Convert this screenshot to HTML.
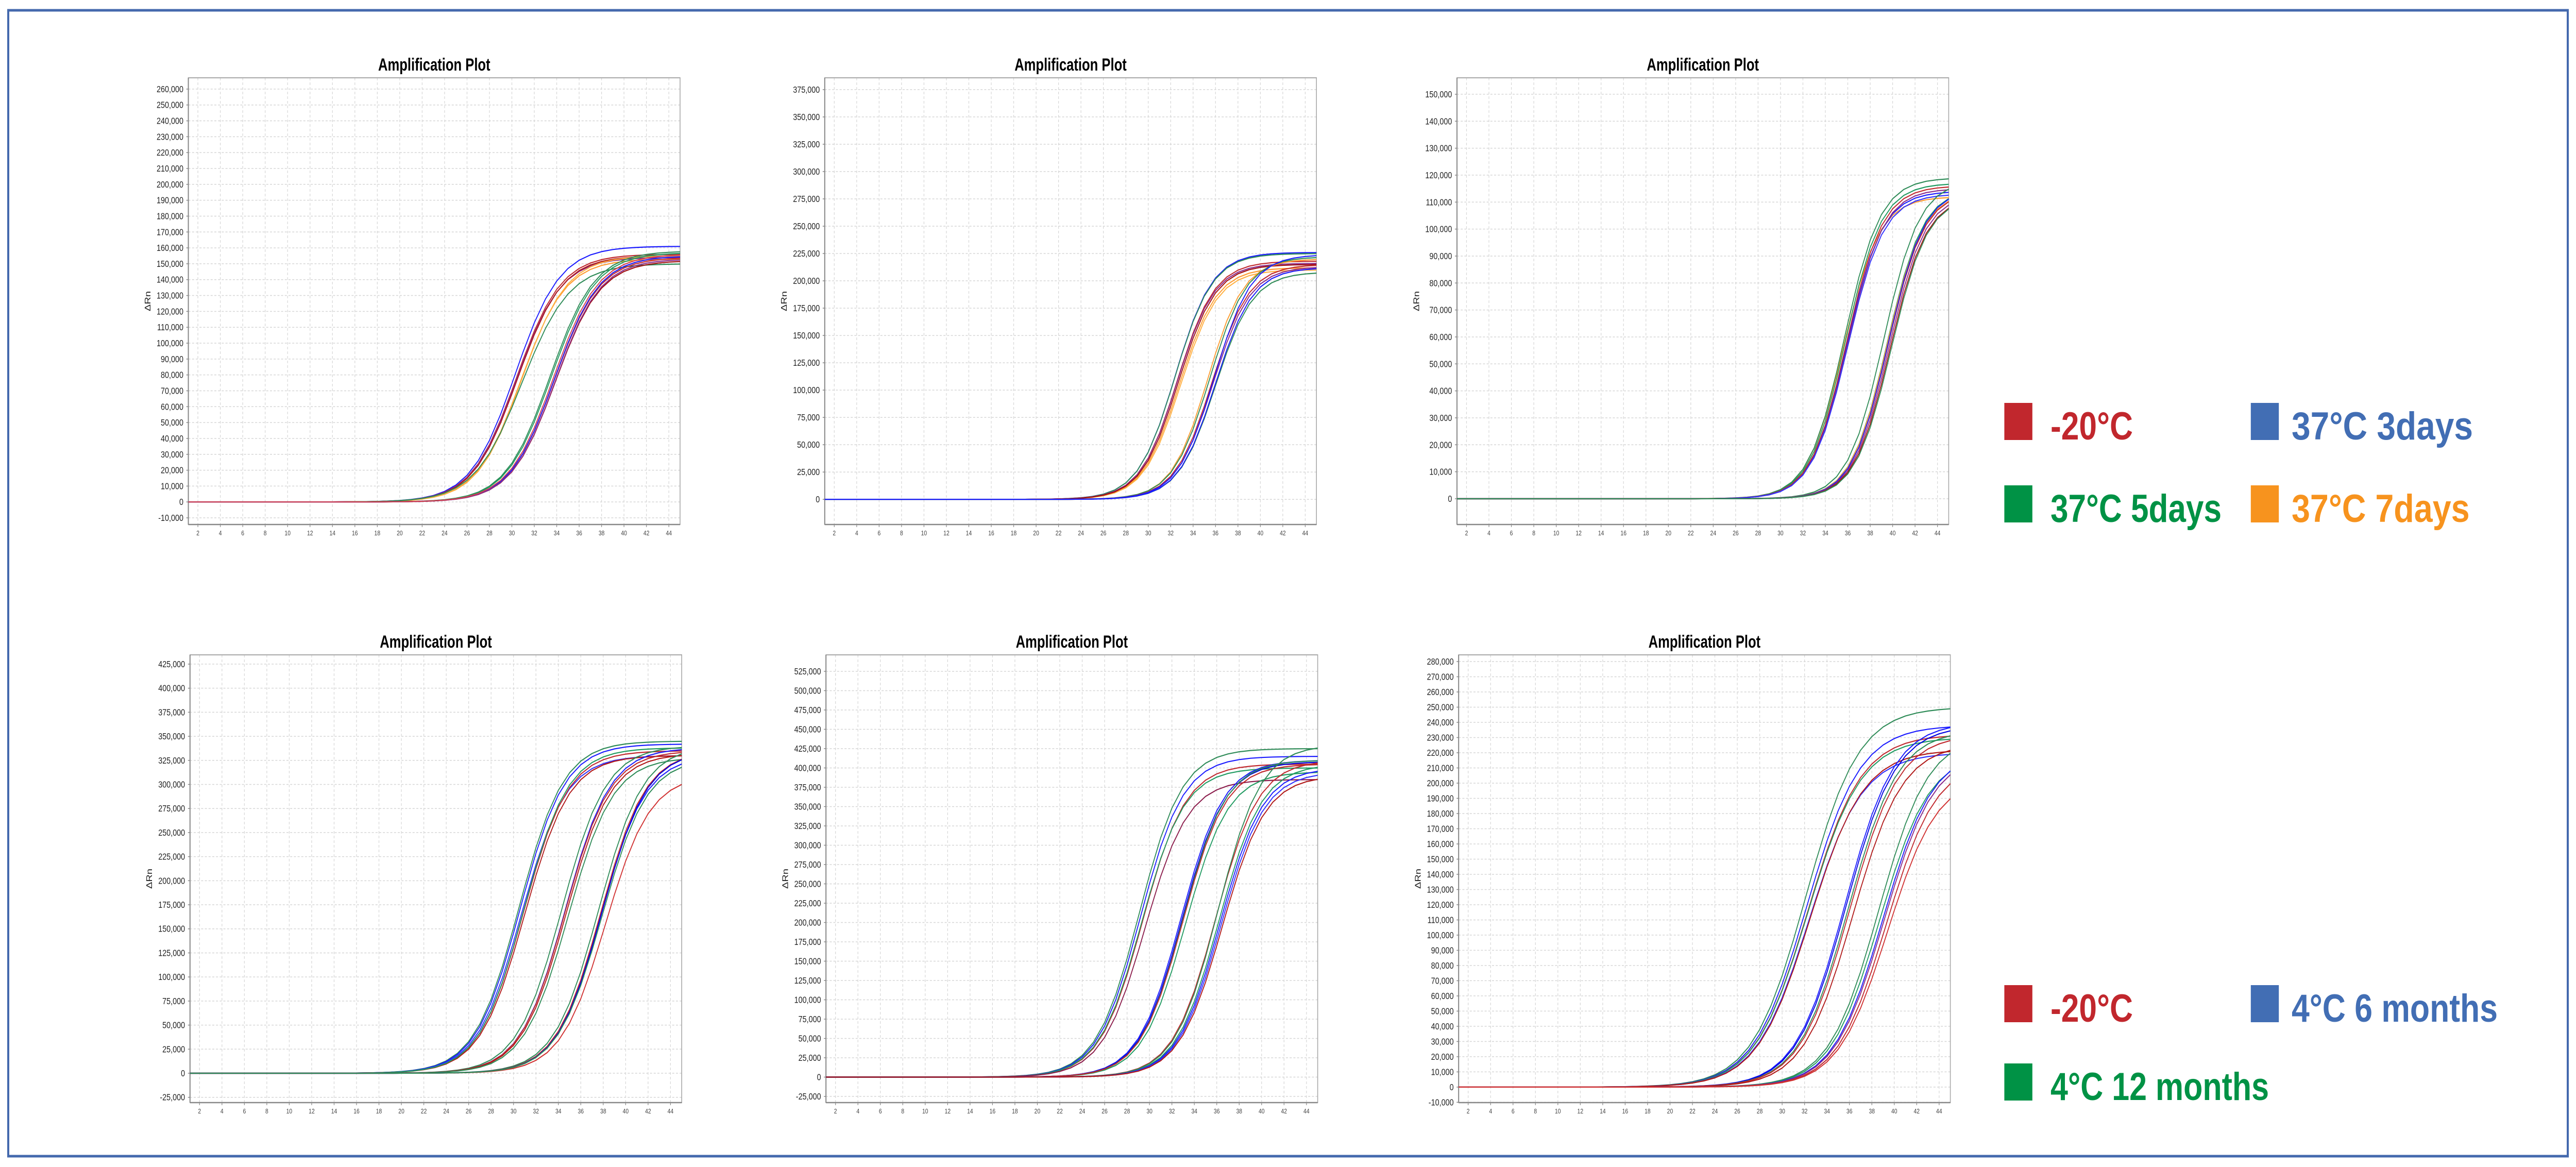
<!DOCTYPE html>
<html><head><meta charset="utf-8"><title>Amplification Plots</title>
<style>
html,body{margin:0;padding:0;background:#fff;width:100%;height:100%;overflow:hidden;}
svg{display:block;width:100vw;height:100vh;}
text{font-family:"Liberation Sans",sans-serif;}
</style></head>
<body>
<svg id="root" xmlns="http://www.w3.org/2000/svg" viewBox="0 0 6250 2265" preserveAspectRatio="none">
<rect x="0" y="0" width="6250" height="2265" fill="#fff"/>
<rect x="20" y="20" width="6210" height="2224" fill="none" stroke="#4469ad" stroke-width="5"/>
<g>
 <rect x="4863" y="782" width="68" height="72" fill="#c1272d"/>
 <text x="4975" y="853" font-size="76" font-weight="bold" fill="#c1272d" textLength="200" lengthAdjust="spacingAndGlyphs">-20°C</text>
 <rect x="5461" y="782" width="68" height="72" fill="#426eb4"/>
 <text x="5560" y="853" font-size="76" font-weight="bold" fill="#426eb4" textLength="440" lengthAdjust="spacingAndGlyphs">37°C 3days</text>
 <rect x="4863" y="942" width="68" height="72" fill="#009245"/>
 <text x="4975" y="1013" font-size="76" font-weight="bold" fill="#009245" textLength="415" lengthAdjust="spacingAndGlyphs">37°C 5days</text>
 <rect x="5461" y="942" width="68" height="72" fill="#f7931e"/>
 <text x="5560" y="1013" font-size="76" font-weight="bold" fill="#f7931e" textLength="432" lengthAdjust="spacingAndGlyphs">37°C 7days</text>
</g>
<g>
 <rect x="4863" y="1912" width="68" height="72" fill="#c1272d"/>
 <text x="4975" y="1983" font-size="76" font-weight="bold" fill="#c1272d" textLength="200" lengthAdjust="spacingAndGlyphs">-20°C</text>
 <rect x="5461" y="1912" width="68" height="72" fill="#426eb4"/>
 <text x="5560" y="1983" font-size="76" font-weight="bold" fill="#426eb4" textLength="500" lengthAdjust="spacingAndGlyphs">4°C 6 months</text>
 <rect x="4863" y="2064" width="68" height="72" fill="#009245"/>
 <text x="4975" y="2135" font-size="76" font-weight="bold" fill="#009245" textLength="530" lengthAdjust="spacingAndGlyphs">4°C 12 months</text>
</g>
</svg>
<script>
// ---- data (threshold cycle, plateau, steepness, colour per trace) ----
const xTickLabels = [2,4,6,8,10,12,14,16,18,20,22,24,26,28,30,32,34,36,38,40,42,44];
const c1Ct = [30.3,30.4,30.4,30.5,30.8,30.9,30.9,33.4,33.5,33.8,33.9,33.8,33.9,33.7];
const c1Plateau = [161000,156000,154000,155000,153000,155000,150000,158000,157000,154000,152000,155000,153000,156000];
const c1K = [0.5,0.5,0.5,0.5,0.5,0.5,0.47,0.5,0.5,0.5,0.5,0.5,0.5,0.5];
const c1Color = ['#1a1aff','#c0282d','#8a2a8a','#b01818','#ff9a2e','#ffb040','#2e8b57','#2e8b57','#1f9a60','#c0282d','#a01010','#1a1aff','#8a2a8a','#d04050'];
const c2Ct = [32.4,32.4,32.6,32.6,32.8,32.9,32.7,35.3,35.5,35.7,35.8,35.9,36.0,36.0];
const c2Plateau = [226000,225000,218000,216000,212000,210000,215000,220000,222000,215000,213000,224000,208000,212000];
const c2K = [0.6,0.6,0.6,0.6,0.6,0.6,0.6,0.62,0.6,0.6,0.6,0.6,0.6,0.6];
const c2Color = ['#1a1aff','#2e8b57','#c0282d','#8a2a8a','#ff9a2e','#ffb040','#a01010','#ff9a2e','#2e8b57','#c0282d','#8a2a8a','#1a1aff','#2e8b57','#1a1aff'];
const c3Ct = [35.6,35.7,35.8,35.9,35.9,36.0,36.0,39.2,39.5,39.5,39.6,39.6,39.7,39.8,39.9];
const c3Plateau = [112000,119000,117000,114000,116000,115000,113000,118000,115000,114000,114000,115000,113000,112000,112000];
const c3K = [0.62,0.62,0.62,0.62,0.62,0.62,0.62,0.62,0.62,0.62,0.62,0.62,0.62,0.62,0.62];
const c3Color = ['#ff9a2e','#2e8b57','#1f9a60','#1a1aff','#c0282d','#8a2a8a','#3030ff','#2e8b57','#1f9a60','#ff9a2e','#c0282d','#1a1aff','#8a2a8a','#a01010','#2e8b57'];
const c4Ct = [30.5,30.6,30.7,30.9,31.0,30.9,34.3,34.6,34.6,34.7,34.9,37.6,37.8,37.8,37.9,38.2,37.9];
const c4Plateau = [345000,342000,330000,335000,330000,338000,340000,338000,335000,332000,328000,340000,330000,335000,335000,310000,327000];
const c4K = [0.5,0.5,0.5,0.5,0.5,0.5,0.5,0.5,0.5,0.5,0.5,0.5,0.5,0.5,0.5,0.5,0.5];
const c4Color = ['#2e8b57','#1a1aff','#3030ff','#c0282d','#b01818','#1f9a60','#2e8b57','#1a1aff','#c0282d','#b01818','#2e8b57','#2e8b57','#1a1aff','#c0282d','#0000e0','#d03030','#2e8b57'];
const c5Ct = [29.1,29.2,29.4,29.3,29.6,32.8,32.9,33.0,33.2,33.0,35.9,36.1,36.2,36.3,36.4,36.5];
const c5Plateau = [425000,415000,405000,400000,385000,410000,408000,410000,395000,405000,410000,430000,405000,400000,395000,390000];
const c5K = [0.52,0.52,0.52,0.52,0.52,0.52,0.52,0.52,0.52,0.52,0.52,0.52,0.52,0.52,0.52,0.52];
const c5Color = ['#2e8b57','#1a1aff','#c0282d','#1f9a60','#8a1a4a','#1a1aff','#0000e0','#2e8b57','#1f9a60','#c0282d','#c0282d','#2e8b57','#1f9a60','#1a1aff','#3030ff','#b01818'];
const c6Ct = [32.1,32.2,32.3,32.3,32.4,32.5,35.6,35.7,35.9,36.0,36.3,38.6,38.7,39.0,39.1,39.3,39.4];
const c6Plateau = [250000,238000,232000,230000,220000,222000,240000,238000,235000,232000,226000,232000,220000,222000,220000,215000,205000];
const c6K = [0.42,0.42,0.42,0.42,0.42,0.42,0.45,0.45,0.45,0.45,0.45,0.45,0.45,0.45,0.45,0.45,0.45];
const c6Color = ['#2e8b57','#1a1aff','#c0282d','#1f9a60','#3030ff','#b01818','#1a1aff','#0000e0','#2e8b57','#c0282d','#b01818','#2e8b57','#1f9a60','#1a1aff','#8a2a8a','#c0282d','#d03030'];

// ---- chart layouts ----
const charts = [
 {n:1,L:457,T:151,B:1018,yMin:-14200,yMax:267100,t0:-10000,t1:260000,step:10000,ct:c1Ct,p:c1Plateau,k:c1K,c:c1Color},
 {n:2,L:2001,T:151,B:1018,yMin:-23000,yMax:385800,t0:0,t1:375000,step:25000,ct:c2Ct,p:c2Plateau,k:c2K,c:c2Color},
 {n:3,L:3535,T:151,B:1018,yMin:-9560,yMax:156100,t0:0,t1:150000,step:10000,ct:c3Ct,p:c3Plateau,k:c3K,c:c3Color},
 {n:4,L:461,T:1271,B:2140,yMin:-30500,yMax:434600,t0:-25000,t1:425000,step:25000,ct:c4Ct,p:c4Plateau,k:c4K,c:c4Color},
 {n:5,L:2004,T:1271,B:2140,yMin:-33000,yMax:546300,t0:-25000,t1:525000,step:25000,ct:c5Ct,p:c5Plateau,k:c5K,c:c5Color},
 {n:6,L:3539,T:1271,B:2140,yMin:-10200,yMax:284400,t0:-10000,t1:280000,step:10000,ct:c6Ct,p:c6Plateau,k:c6K,c:c6Color}
];
const W = 1193, X0 = 1.15, X1 = 45;
const NS = 'http://www.w3.org/2000/svg';
const root = document.getElementById('root');
function mk(tag, attrs, parent){
  const e = document.createElementNS(NS, tag);
  for (const a in attrs) e.setAttribute(a, attrs[a]);
  parent.appendChild(e);
  return e;
}
function fmt(v){ return v.toLocaleString('en-US'); }

charts.forEach(ch => {
  const xs = x => ch.L + (x - X0) / (X1 - X0) * W;
  const ys = v => ch.B - (v - ch.yMin) / (ch.yMax - ch.yMin) * (ch.B - ch.T);
  const g = mk('g', {}, root);
  
  

  const title = mk('text', {x: ch.L + W/2, y: ch.T - 14, 'font-size': 34, 'font-weight': 'bold', 'text-anchor': 'middle', fill: '#000', textLength: 272, lengthAdjust: 'spacingAndGlyphs'}, g);
  title.textContent = 'Amplification Plot';
  
  

  const plotBg = mk('rect', {x: ch.L, y: ch.T, width: W, height: ch.B - ch.T, fill: '#fff'}, g);
  
  

  for (let v = ch.t0; v <= ch.t1 + 1; v += ch.step) {
    const y = ys(v);
    const gl = mk('line', {x1: ch.L, x2: ch.L + W, y1: y, y2: y, stroke: '#d6d6d6', 'stroke-width': 1.5, 'stroke-dasharray': '5,4'}, g);
    
    
    mk('line', {x1: ch.L - 5, x2: ch.L, y1: y, y2: y, stroke: '#888', 'stroke-width': 1.5}, g);
    const t = mk('text', {x: ch.L - 12, y: y + 6, 'font-size': 18, 'text-anchor': 'end', fill: '#222'}, g);
    t.textContent = fmt(v);
    
    
  }
  xTickLabels.forEach(c => {
    const x = xs(c);
    const gl = mk('line', {x1: x, x2: x, y1: ch.T, y2: ch.B, stroke: '#d6d6d6', 'stroke-width': 1.5, 'stroke-dasharray': '5,4'}, g);
    
    
    mk('line', {x1: x, x2: x, y1: ch.B, y2: ch.B + 5, stroke: '#888', 'stroke-width': 1.5}, g);
    const t = mk('text', {x: x, y: ch.B + 21, 'font-size': 13, 'text-anchor': 'middle', fill: '#444'}, g);
    t.textContent = c;
    
    
  });
  const frame = mk('rect', {x: ch.L, y: ch.T, width: W, height: ch.B - ch.T, fill: 'none', stroke: '#a8a8a8', 'stroke-width': 2}, g);
  
  
  mk('line', {x1: ch.L, x2: ch.L, y1: ch.T, y2: ch.B, stroke: '#888', 'stroke-width': 2.5}, g);
  mk('line', {x1: ch.L, x2: ch.L + W, y1: ch.B, y2: ch.B, stroke: '#888', 'stroke-width': 2.5}, g);

  const yl = mk('text', {x: 0, y: 0, 'font-size': 20, 'text-anchor': 'middle', fill: '#222', transform: 'translate(' + (ch.L - 92) + ',' + ((ch.T + ch.B)/2) + ') rotate(-90)'}, g);
  yl.textContent = 'ΔRn';
  
  

  const cg = mk('g', {}, g);
  
  
  for (let i = 0; i < ch.ct.length; i++) {
    const pts = [];
    for (let c = 1; c <= 45; c++) {
      const v = ch.p[i] / (1 + Math.exp(-ch.k[i] * (c - ch.ct[i])));
      const xx = Math.max(xs(c), ch.L);
      pts.push(xx.toFixed(1) + ',' + ys(v).toFixed(1));
    }
    const pl = mk('polyline', {points: pts.join(' '), fill: 'none', stroke: ch.c[i], 'stroke-width': 2.2, 'stroke-linejoin': 'round'}, cg);
    
    
  }
});
</script>
</body></html>
